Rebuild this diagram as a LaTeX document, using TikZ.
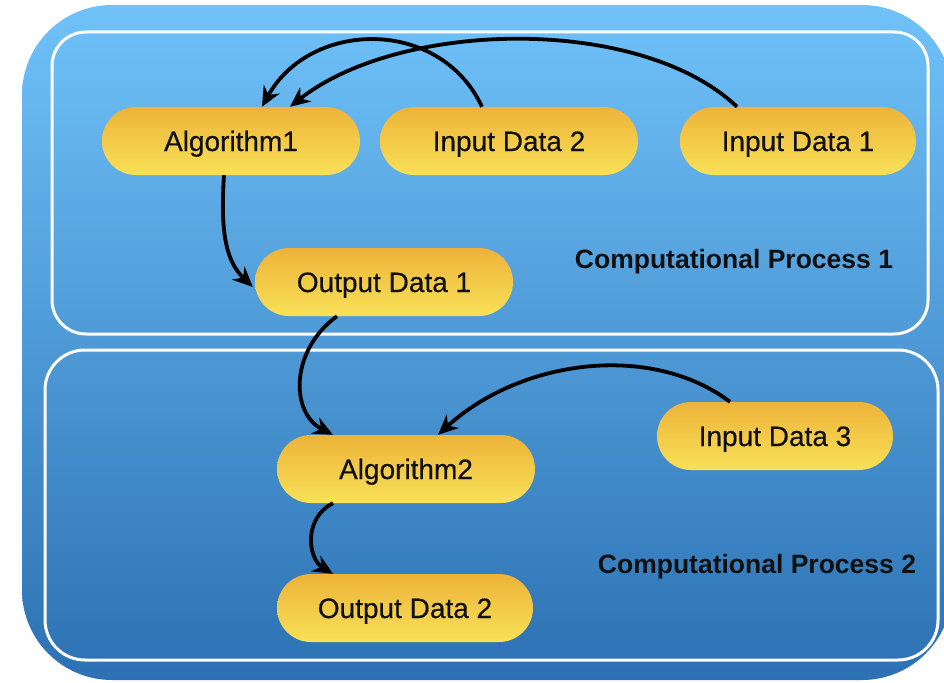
\documentclass[tikz,border=0pt]{standalone}
\usepackage{fontspec}
\setmainfont{Liberation Sans}
\usetikzlibrary{arrows.meta,shapes.misc}
\definecolor{bluetop}{HTML}{70C2F9}
\definecolor{bluebot}{HTML}{2C71B3}
\definecolor{pilltop}{HTML}{EDB33A}
\definecolor{pillbot}{HTML}{F8E157}
\definecolor{inktext}{HTML}{101010}
\tikzset{
  pill/.style={draw=none, top color=pilltop, bottom color=pillbot,
    rounded rectangle, minimum height=68pt, inner sep=0pt,
    text height=20pt, text depth=0pt,
    text=inktext, font=\fontsize{28}{32}\selectfont\addfontfeature{FakeBold=0.4}},
  wide/.style={minimum width=258pt},
  narrow/.style={minimum width=236pt},
  frame/.style={draw=white, line width=3pt},
  proclabel/.style={text=inktext, font=\fontsize{26.5}{31}\selectfont\bfseries},
  flow/.style={draw=black, line width=3.8pt, -{Stealth[length=20pt,width=18pt]}}
}
\begin{document}
\begin{tikzpicture}[x=1pt,y=-1pt]
\useasboundingbox (0,0) rectangle (944,682);
\fill[white] (0,0) rectangle (944,682);
% outer panel
\shade[top color=bluetop, bottom color=bluebot, rounded corners=90pt]
  (22,5) rectangle (952,680);
% the two process frames
\draw[frame, rounded corners=34pt] (52,32) rectangle (928,334);
\draw[frame, rounded corners=40pt] (45,350) rectangle (938,660);
% process 1
\node[pill, wide]   (alg1) at (231,141) {Algorithm1};
\node[pill, wide]   (in2)  at (509,141) {Input Data 2};
\node[pill, narrow] (in1)  at (798,141) {Input Data 1};
\node[pill, wide]   (out1) at (384,282) {Output Data 1};
\node[proclabel] (lab1) at (734,262) {Computational Process 1};
% process 2
\node[pill, narrow] (in3)  at (775,436) {Input Data 3};
\node[pill, wide]   (alg2) at (406,469) {Algorithm2};
\node[pill, wide, minimum width=256pt] (out2) at (405,608) {Output Data 2};
\node[proclabel] (lab2) at (757,567) {Computational Process 2};
% connectors
\draw[flow] ([xshift=-27pt]in2.north) .. controls +(-42,-90) and +(48,-87) .. ([xshift=31pt]alg1.north);
\draw[flow] ([xshift=-61pt]in1.north) .. controls +(-97,-92) and +(110,-87) .. ([xshift=59pt]alg1.north);
\draw[flow] ([xshift=-7pt]alg1.south) .. controls +(-4,60) and +(-26,-25) .. ([xshift=-2pt,yshift=-5pt]out1.west);
\draw[flow] ([xshift=-47pt]out1.south) .. controls +(-47,34) and +(-43,-22) .. ([xshift=-73pt]alg2.north);
\draw[flow] ([xshift=-45pt]in3.north) .. controls +(-80,-60) and +(82,-75) .. ([xshift=32pt]alg2.north);
\draw[flow] ([xshift=-73pt]alg2.south) .. controls +(-30,15) and +(-25,-15) .. ([xshift=-72pt]out2.north);
\end{tikzpicture}
\end{document}
